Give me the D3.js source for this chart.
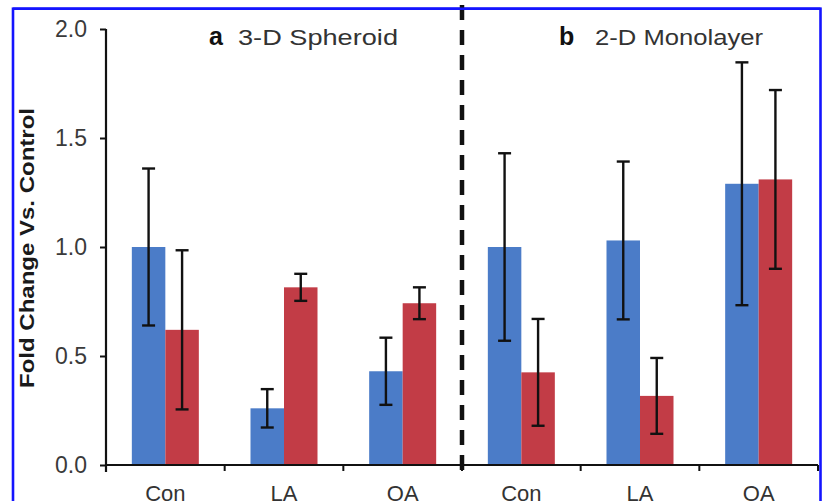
<!DOCTYPE html>
<html>
<head>
<meta charset="utf-8">
<script src="https://cdn.jsdelivr.net/npm/d3@7"></script>
<style>
  html, body { margin: 0; padding: 0; background: #fff; }
  svg { display: block; font-family: "Liberation Sans", Arial, Helvetica, sans-serif; }
</style>
</head>
<body>
<svg id="chart" width="822" height="501"></svg>
<script>
// ---- data ----
const panelLetters = ["a", "b"];
const panelTitles = ["3-D Spheroid", "2-D Monolayer"];
const treatments = ["Con", "LA", "OA"];
const groupIndex = [0, 1, 2, 3, 4, 5];
const blueMeans = [1.00, 0.26, 0.43, 1.00, 1.03, 1.29];
const blueErrors = [0.36, 0.088, 0.154, 0.43, 0.362, 0.557];
const redMeans = [0.62, 0.815, 0.742, 0.425, 0.317, 1.31];
const redErrors = [0.365, 0.062, 0.073, 0.245, 0.174, 0.41];
const yTicks = [0.0, 0.5, 1.0, 1.5, 2.0];
const yTitle = "Fold Change Vs. Control";
const seriesKeys = ["blue", "red"];

// ---- layout ----
const svg = d3.select("#chart");
const plotL = 106, plotR = 818, plotT = 29, plotB = 465;
const colors = { blue: "#4B7CC8", red: "#C23C46" };

const y = d3.scaleLinear().domain([0, 2]).range([plotB, plotT]);
const p = 1 - 67 / ((plotR - plotL) / 6);
const x = d3.scaleBand().domain(groupIndex).range([plotL, plotR])
  .paddingInner(p).paddingOuter(p / 2);
const xs = d3.scaleBand().domain(seriesKeys).range([0, x.bandwidth()]);

// border
svg.append("rect").attr("x", 13).attr("y", 8.7).attr("width", 807.5).attr("height", 520)
  .attr("fill", "none").attr("stroke", "#1414ff").attr("stroke-width", 2.6);

// bars
const rows = groupIndex.map(i => ({
  i,
  vals: [
    { key: "blue", v: blueMeans[i], e: blueErrors[i] },
    { key: "red", v: redMeans[i], e: redErrors[i] }
  ]
}));
const g = svg.append("g");
const grp = g.selectAll("g.grp").data(rows).join("g")
  .attr("transform", d => `translate(${x(d.i)},0)`);
grp.selectAll("rect").data(d => d.vals).join("rect")
  .attr("x", d => xs(d.key)).attr("width", xs.bandwidth())
  .attr("y", d => y(d.v)).attr("height", d => y(0) - y(d.v))
  .attr("fill", d => colors[d.key]);

// error bars
const eb = grp.selectAll("g.eb").data(d => d.vals).join("g")
  .attr("transform", d => `translate(${xs(d.key) + xs.bandwidth() / 2},0)`)
  .attr("stroke", "#111").attr("stroke-width", 2.4);
eb.append("line").attr("x1", 0).attr("x2", 0)
  .attr("y1", d => y(d.v + d.e)).attr("y2", d => y(d.v - d.e));
eb.append("line").attr("x1", -6.5).attr("x2", 6.5)
  .attr("y1", d => y(d.v + d.e)).attr("y2", d => y(d.v + d.e));
eb.append("line").attr("x1", -6.5).attr("x2", 6.5)
  .attr("y1", d => y(d.v - d.e)).attr("y2", d => y(d.v - d.e));

// y axis
const yAxis = svg.append("g").attr("transform", `translate(${plotL},0)`)
  .call(d3.axisLeft(y).tickValues(yTicks).tickFormat(d3.format(".1f"))
    .tickSize(6).tickPadding(13));
yAxis.select(".domain").attr("stroke", "#111").attr("stroke-width", 2.2)
  .attr("d", `M0,${plotT}V${plotB + 7}`);
yAxis.selectAll(".tick line").attr("stroke", "#111").attr("stroke-width", 2);
yAxis.selectAll(".tick text").attr("fill", "#3a3a3a")
  .style("font-size", "23px").style("font-family", "'Liberation Sans', Arial, sans-serif");

// x axis
const xAxis = svg.append("g").attr("transform", `translate(0,${plotB})`)
  .call(d3.axisBottom(x).tickSize(0).tickPadding(20).tickFormat(i => treatments[i % 3]));
xAxis.select(".domain").attr("stroke", "#111").attr("stroke-width", 2.2)
  .attr("d", `M${plotL},0H${plotR}`);
xAxis.selectAll(".tick text").attr("fill", "#333")
  .style("font-size", "22px").style("font-family", "'Liberation Sans', Arial, sans-serif");
const boundaries = d3.range(7).map(k => plotL + k * x.step());
xAxis.selectAll("line.bt").data(boundaries).join("line").attr("class", "bt")
  .attr("x1", d => d).attr("x2", d => d).attr("y1", 0).attr("y2", 6)
  .attr("stroke", "#111").attr("stroke-width", 2);

// dashed divider
const divX = boundaries[3];
svg.append("line").attr("x1", divX).attr("x2", divX).attr("y1", 5).attr("y2", 472)
  .attr("stroke", "#111").attr("stroke-width", 4.5).attr("stroke-dasharray", "15,10");

// redraw border top over dash
svg.append("line").attr("x1", 13).attr("x2", 820.5).attr("y1", 8.7).attr("y2", 8.7)
  .attr("stroke", "#1414ff").attr("stroke-width", 2.6);

// y title
svg.append("text")
  .attr("transform", "translate(34,248) rotate(-90)")
  .attr("text-anchor", "middle")
  .attr("textLength", 280).attr("lengthAdjust", "spacingAndGlyphs")
  .style("font-size", "20.5px").style("font-weight", "bold").attr("fill", "#1a1a1a")
  .text(yTitle);

// panel titles
const titlePos = [
  { lx: 209, tx: 238, w: 160 },
  { lx: 559, tx: 595, w: 168 }
];
panelTitles.forEach((t, k) => {
  svg.append("text").attr("x", titlePos[k].lx).attr("y", 44.5)
    .style("font-size", "25px").style("font-weight", "bold").attr("fill", "#111")
    .text(panelLetters[k]);
  svg.append("text").attr("x", titlePos[k].tx).attr("y", 44.5)
    .attr("textLength", titlePos[k].w).attr("lengthAdjust", "spacingAndGlyphs")
    .style("font-size", "21.5px").attr("fill", "#333")
    .text(t);
});
</script>
</body>
</html>
